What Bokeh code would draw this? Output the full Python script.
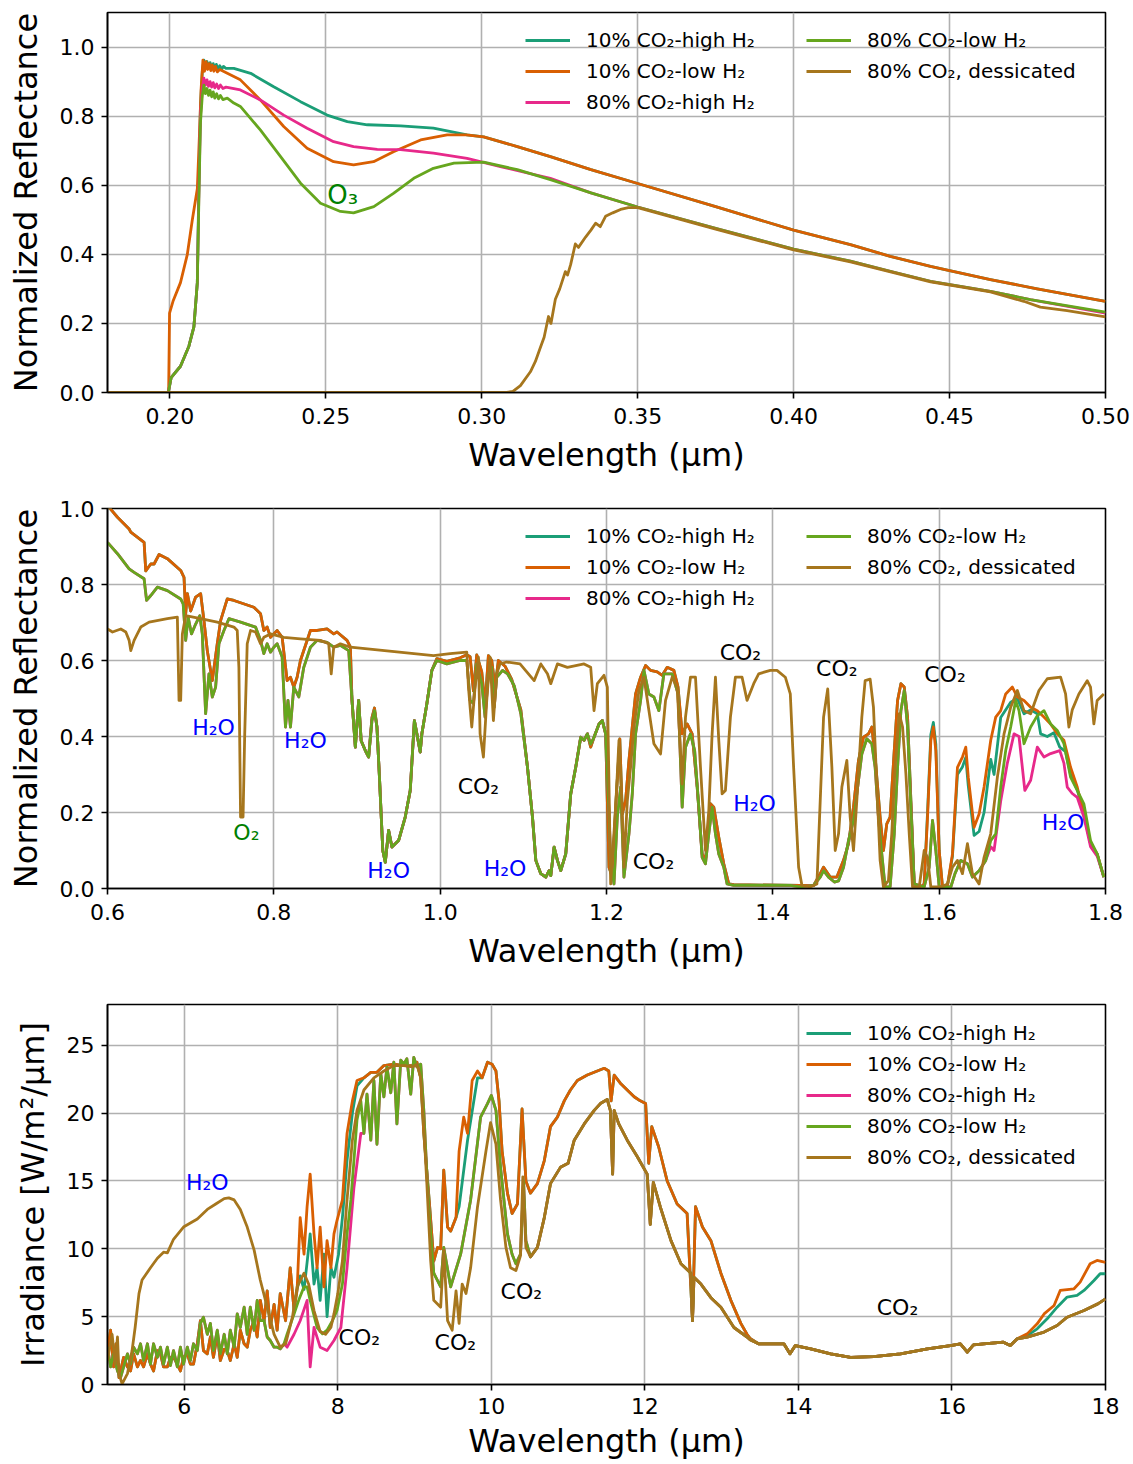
from bokeh.plotting import figure
from bokeh.models import ColumnDataSource, Legend, LegendItem, Range1d, NumeralTickFormatter
from bokeh.layouts import column
from bokeh.embed import file_html
from bokeh.resources import INLINE
from bokeh.core.properties import value

FONT = "DejaVu Sans"
SERIES_NAMES = ["10% CO₂-high H₂", "10% CO₂-low H₂", "80% CO₂-high H₂",
                "80% CO₂-low H₂", "80% CO₂, dessicated"]
SERIES_COLORS = ["#1b9e77", "#d95f02", "#e7298a", "#66a61e", "#a6761d"]

# ---------------- Panel 1: UV reflectance (wavelength um, reflectance) ----------------
UV_TEAL = [(0.180, 0.0), (0.1995, 0.0), (0.2004, 0.043), (0.2034, 0.076), (0.2061, 0.134),
           (0.2077, 0.190), (0.2088, 0.318), (0.2093, 0.607), (0.2098, 0.827), (0.2104, 0.930),
           (0.2109, 0.962), (0.2114, 0.945), (0.2119, 0.958), (0.2124, 0.940), (0.2129, 0.955),
           (0.2134, 0.938), (0.2139, 0.952), (0.2144, 0.936), (0.2149, 0.950), (0.2154, 0.935),
           (0.2160, 0.946), (0.2166, 0.936), (0.2172, 0.944), (0.2180, 0.938), (0.2205, 0.938),
           (0.2259, 0.924), (0.2333, 0.885), (0.2419, 0.842), (0.2504, 0.803), (0.2569, 0.784),
           (0.2633, 0.775), (0.2740, 0.772), (0.2845, 0.765), (0.2953, 0.746), (0.3006, 0.740),
           (0.3114, 0.712), (0.3220, 0.683), (0.3350, 0.645), (0.3500, 0.605), (0.3750, 0.538),
           (0.4000, 0.470), (0.4182, 0.428), (0.4310, 0.394), (0.4439, 0.365), (0.4500, 0.353),
           (0.4631, 0.327), (0.4781, 0.300), (0.5000, 0.264)]
UV_ORANGE = [(0.180, 0.0), (0.1996, 0.0), (0.1999, 0.230), (0.2010, 0.264), (0.2034, 0.318),
             (0.2056, 0.400), (0.2072, 0.500), (0.2088, 0.590), (0.2095, 0.750), (0.2100, 0.876),
             (0.2106, 0.962), (0.2111, 0.930), (0.2116, 0.958), (0.2121, 0.935), (0.2126, 0.952),
             (0.2131, 0.932), (0.2136, 0.948), (0.2141, 0.930), (0.2146, 0.944), (0.2152, 0.928),
             (0.2160, 0.935), (0.2226, 0.905), (0.2290, 0.847), (0.2365, 0.770), (0.2440, 0.707),
             (0.2525, 0.668), (0.2589, 0.659), (0.2653, 0.668), (0.2717, 0.697), (0.2804, 0.731),
             (0.2889, 0.746), (0.2950, 0.746), (0.3006, 0.740), (0.3114, 0.712), (0.3220, 0.683),
             (0.3350, 0.645), (0.3500, 0.605), (0.3750, 0.538), (0.4000, 0.470), (0.4182, 0.428),
             (0.4310, 0.394), (0.4439, 0.365), (0.4500, 0.353), (0.4631, 0.327), (0.4781, 0.300),
             (0.5000, 0.264)]
UV_PINK = [(0.180, 0.0), (0.1995, 0.0), (0.2004, 0.043), (0.2034, 0.076), (0.2061, 0.134),
           (0.2077, 0.190), (0.2088, 0.318), (0.2093, 0.580), (0.2098, 0.800), (0.2104, 0.880),
           (0.2109, 0.910), (0.2114, 0.890), (0.2119, 0.905), (0.2124, 0.886), (0.2129, 0.900),
           (0.2134, 0.884), (0.2139, 0.897), (0.2144, 0.882), (0.2150, 0.893), (0.2156, 0.880),
           (0.2162, 0.890), (0.2170, 0.880), (0.2180, 0.884), (0.2226, 0.876), (0.2290, 0.847),
           (0.2365, 0.803), (0.2440, 0.765), (0.2525, 0.726), (0.2589, 0.712), (0.2665, 0.704),
           (0.2740, 0.703), (0.2845, 0.693), (0.2953, 0.678), (0.3060, 0.654), (0.3220, 0.620),
           (0.3350, 0.578), (0.3500, 0.537), (0.3750, 0.475), (0.4000, 0.415), (0.4182, 0.380),
           (0.4310, 0.351), (0.4439, 0.322), (0.4631, 0.293), (0.4759, 0.269), (0.5000, 0.230)]
UV_GREEN = [(0.180, 0.0), (0.1995, 0.0), (0.2004, 0.043), (0.2034, 0.076), (0.2061, 0.134),
            (0.2077, 0.190), (0.2088, 0.318), (0.2093, 0.560), (0.2098, 0.780), (0.2104, 0.860),
            (0.2109, 0.890), (0.2114, 0.865), (0.2119, 0.880), (0.2124, 0.860), (0.2129, 0.875),
            (0.2134, 0.856), (0.2139, 0.870), (0.2144, 0.852), (0.2150, 0.865), (0.2156, 0.850),
            (0.2162, 0.860), (0.2170, 0.848), (0.2184, 0.852), (0.2205, 0.838), (0.2226, 0.828),
            (0.2290, 0.760), (0.2355, 0.683), (0.2419, 0.606), (0.2483, 0.548), (0.2547, 0.524),
            (0.2589, 0.520), (0.2654, 0.538), (0.2718, 0.577), (0.2782, 0.620), (0.2845, 0.649),
            (0.2911, 0.664), (0.3006, 0.667), (0.3114, 0.645), (0.3220, 0.616), (0.3350, 0.578),
            (0.3500, 0.537), (0.3750, 0.475), (0.4000, 0.415), (0.4182, 0.380), (0.4310, 0.351),
            (0.4439, 0.322), (0.4631, 0.293), (0.4759, 0.269), (0.5000, 0.233)]
UV_BROWN = [(0.180, 0.0), (0.3080, 0.0), (0.3100, 0.003), (0.3124, 0.020), (0.3156, 0.060),
            (0.3172, 0.090), (0.3188, 0.130), (0.3200, 0.160), (0.3214, 0.220), (0.3222, 0.200),
            (0.3236, 0.270), (0.3250, 0.300), (0.3268, 0.350), (0.3275, 0.340), (0.3285, 0.370),
            (0.3300, 0.430), (0.3310, 0.420), (0.3333, 0.450), (0.3350, 0.470), (0.3365, 0.490),
            (0.3380, 0.480), (0.3397, 0.510), (0.3420, 0.520), (0.3445, 0.530), (0.3470, 0.535),
            (0.3500, 0.535), (0.3750, 0.473), (0.4000, 0.413), (0.4182, 0.378), (0.4439, 0.320),
            (0.4631, 0.291), (0.4738, 0.264), (0.4791, 0.247), (0.4877, 0.237), (0.5000, 0.219)]

UV_XTICKS = [0.20, 0.25, 0.30, 0.35, 0.40, 0.45, 0.50]
UV_XLABELS = ["0.20", "0.25", "0.30", "0.35", "0.40", "0.45", "0.50"]
UV_YTICKS = [0.0, 0.2, 0.4, 0.6, 0.8, 1.0]
UV_YLABELS = ["0.0", "0.2", "0.4", "0.6", "0.8", "1.0"]
UV_NOTES = [(0.2554, 0.571, "O₃", "#008000")]

# ---------------- Panel 2: NIR reflectance ----------------
NIR_ORANGE_A = [(0.600, 1.008), (0.612, 0.977), (0.626, 0.946), (0.628, 0.938), (0.644, 0.911),
                (0.646, 0.836), (0.652, 0.854), (0.656, 0.854), (0.662, 0.879), (0.672, 0.868),
                (0.688, 0.837), (0.692, 0.819), (0.694, 0.723), (0.696, 0.776), (0.700, 0.730),
                (0.706, 0.767), (0.712, 0.776), (0.716, 0.705), (0.720, 0.626), (0.726, 0.547),
                (0.732, 0.644), (0.736, 0.705), (0.744, 0.762), (0.752, 0.758), (0.776, 0.740),
                (0.784, 0.723), (0.788, 0.679), (0.792, 0.688), (0.796, 0.661), (0.804, 0.679),
                (0.810, 0.661), (0.816, 0.547), (0.820, 0.556), (0.824, 0.530), (0.828, 0.556),
                (0.832, 0.600), (0.844, 0.679), (0.852, 0.679), (0.864, 0.683), (0.872, 0.670),
                (0.876, 0.675), (0.888, 0.653), (0.892, 0.636)]
NIR_GREEN_A = [(0.600, 0.911), (0.612, 0.881), (0.626, 0.841), (0.632, 0.832), (0.644, 0.815),
               (0.647, 0.758), (0.652, 0.771), (0.660, 0.793), (0.672, 0.784), (0.688, 0.762),
               (0.691, 0.749), (0.694, 0.653), (0.697, 0.714), (0.701, 0.670), (0.706, 0.696),
               (0.711, 0.718), (0.714, 0.670), (0.718, 0.460), (0.722, 0.565), (0.726, 0.504),
               (0.730, 0.530), (0.734, 0.644), (0.740, 0.679), (0.746, 0.710), (0.760, 0.701),
               (0.778, 0.688), (0.784, 0.653), (0.788, 0.618), (0.792, 0.644), (0.796, 0.622),
               (0.800, 0.635), (0.804, 0.644), (0.810, 0.609), (0.814, 0.425), (0.817, 0.495),
               (0.820, 0.425), (0.824, 0.530), (0.830, 0.504), (0.836, 0.582), (0.844, 0.635),
               (0.852, 0.653), (0.864, 0.648), (0.872, 0.635), (0.880, 0.640), (0.890, 0.626)]
NIR_ORANGE_MID = [(0.894, 0.495), (0.898, 0.372), (0.902, 0.495), (0.905, 0.389), (0.910, 0.363),
                  (0.914, 0.346), (0.918, 0.450), (0.921, 0.475), (0.924, 0.425), (0.927, 0.293),
                  (0.931, 0.100), (0.934, 0.069), (0.938, 0.153), (0.942, 0.109), (0.950, 0.126),
                  (0.958, 0.188), (0.964, 0.258), (0.969, 0.442), (0.972, 0.407), (0.976, 0.359),
                  (0.978, 0.407), (0.984, 0.486), (0.990, 0.574), (0.996, 0.605), (1.008, 0.598),
                  (1.024, 0.607), (1.032, 0.615), (1.036, 0.610), (1.040, 0.520), (1.044, 0.615),
                  (1.050, 0.570), (1.054, 0.480), (1.058, 0.613), (1.062, 0.600), (1.066, 0.530),
                  (1.070, 0.600), (1.078, 0.585), (1.086, 0.550), (1.097, 0.470), (1.105, 0.319),
                  (1.111, 0.188), (1.115, 0.074), (1.121, 0.039), (1.127, 0.030), (1.131, 0.047),
                  (1.133, 0.034), (1.137, 0.109), (1.141, 0.074), (1.145, 0.047), (1.151, 0.091),
                  (1.157, 0.249), (1.163, 0.319), (1.169, 0.398), (1.173, 0.390), (1.177, 0.407),
                  (1.181, 0.372), (1.185, 0.398), (1.191, 0.433), (1.195, 0.442), (1.199, 0.407)]
NIR_MID = [(0.894, 0.495), (0.898, 0.372), (0.902, 0.495), (0.905, 0.389), (0.910, 0.363),
           (0.914, 0.346), (0.918, 0.442), (0.921, 0.468), (0.924, 0.425), (0.927, 0.293),
           (0.931, 0.100), (0.934, 0.069), (0.938, 0.153), (0.942, 0.109), (0.950, 0.126),
           (0.958, 0.188), (0.964, 0.258), (0.969, 0.442), (0.972, 0.407), (0.976, 0.359),
           (0.978, 0.407), (0.984, 0.486), (0.990, 0.574), (0.996, 0.600), (1.008, 0.591),
           (1.024, 0.600), (1.032, 0.600), (1.036, 0.495), (1.040, 0.487), (1.044, 0.591),
           (1.050, 0.539), (1.054, 0.451), (1.058, 0.565), (1.062, 0.582), (1.065, 0.477),
           (1.068, 0.556), (1.075, 0.574), (1.081, 0.565), (1.089, 0.534), (1.097, 0.460),
           (1.105, 0.319), (1.111, 0.188), (1.115, 0.074), (1.121, 0.039), (1.127, 0.030),
           (1.131, 0.047), (1.133, 0.034), (1.137, 0.109), (1.141, 0.074), (1.145, 0.047),
           (1.151, 0.091), (1.157, 0.249), (1.163, 0.319), (1.169, 0.398), (1.173, 0.390),
           (1.177, 0.407), (1.181, 0.380), (1.185, 0.398), (1.191, 0.433), (1.195, 0.442),
           (1.199, 0.407)]
NIR_ORANGE_B = [(1.203, 0.056), (1.207, 0.030), (1.211, 0.214), (1.216, 0.394), (1.219, 0.196),
                (1.223, 0.232), (1.227, 0.337), (1.231, 0.425), (1.235, 0.512), (1.241, 0.556),
                (1.247, 0.587), (1.253, 0.574), (1.261, 0.570), (1.267, 0.561), (1.273, 0.582),
                (1.281, 0.574), (1.286, 0.530), (1.291, 0.407), (1.297, 0.433), (1.303, 0.407),
                (1.309, 0.267), (1.315, 0.091), (1.319, 0.074), (1.325, 0.223), (1.329, 0.214),
                (1.335, 0.135), (1.341, 0.065), (1.347, 0.012), (1.353, 0.010), (1.433, 0.008),
                (1.449, 0.008), (1.457, 0.039), (1.461, 0.056), (1.469, 0.030), (1.477, 0.030),
                (1.485, 0.074), (1.491, 0.118), (1.497, 0.214), (1.503, 0.337), (1.509, 0.398),
                (1.515, 0.407), (1.519, 0.425), (1.523, 0.346), (1.529, 0.188), (1.533, 0.100),
                (1.537, 0.170), (1.541, 0.188), (1.546, 0.363), (1.550, 0.495), (1.554, 0.539),
                (1.558, 0.530), (1.562, 0.451), (1.566, 0.232), (1.570, 0.012), (1.578, 0.004),
                (1.582, 0.012), (1.586, 0.188), (1.590, 0.390), (1.593, 0.425), (1.596, 0.363),
                (1.600, 0.100), (1.604, 0.004), (1.610, 0.008), (1.616, 0.091), (1.622, 0.319),
                (1.628, 0.346), (1.632, 0.372), (1.635, 0.293), (1.642, 0.161), (1.648, 0.196),
                (1.654, 0.267), (1.662, 0.390), (1.668, 0.451), (1.674, 0.468), (1.680, 0.512),
                (1.688, 0.530), (1.694, 0.504), (1.702, 0.495), (1.710, 0.477), (1.718, 0.468),
                (1.726, 0.451), (1.734, 0.433), (1.742, 0.407), (1.750, 0.390), (1.758, 0.319),
                (1.766, 0.267), (1.774, 0.196), (1.782, 0.118), (1.790, 0.091), (1.798, 0.030)]
NIR_TEAL_B = [(1.203, 0.056), (1.207, 0.030), (1.211, 0.214), (1.216, 0.394), (1.219, 0.196),
              (1.223, 0.232), (1.227, 0.337), (1.231, 0.425), (1.235, 0.512), (1.241, 0.556),
              (1.247, 0.587), (1.253, 0.574), (1.261, 0.570), (1.267, 0.561), (1.273, 0.582),
              (1.281, 0.574), (1.286, 0.530), (1.291, 0.407), (1.297, 0.433), (1.303, 0.407),
              (1.309, 0.267), (1.315, 0.091), (1.319, 0.074), (1.325, 0.223), (1.329, 0.214),
              (1.335, 0.135), (1.341, 0.065), (1.347, 0.012), (1.353, 0.010), (1.433, 0.008),
              (1.449, 0.008), (1.457, 0.039), (1.461, 0.056), (1.469, 0.030), (1.477, 0.030),
              (1.485, 0.074), (1.491, 0.118), (1.497, 0.214), (1.503, 0.337), (1.509, 0.398),
              (1.515, 0.407), (1.519, 0.425), (1.523, 0.346), (1.529, 0.188), (1.533, 0.100),
              (1.537, 0.170), (1.541, 0.188), (1.546, 0.363), (1.550, 0.495), (1.554, 0.539),
              (1.558, 0.530), (1.562, 0.451), (1.566, 0.232), (1.570, 0.012), (1.578, 0.004),
              (1.582, 0.012), (1.586, 0.200), (1.590, 0.405), (1.593, 0.437), (1.596, 0.380),
              (1.600, 0.100), (1.604, 0.004), (1.610, 0.008), (1.616, 0.085), (1.622, 0.300),
              (1.628, 0.320), (1.632, 0.345), (1.635, 0.270), (1.642, 0.140), (1.648, 0.150),
              (1.654, 0.200), (1.662, 0.340), (1.666, 0.300), (1.674, 0.450), (1.686, 0.490),
              (1.694, 0.500), (1.702, 0.460), (1.710, 0.470), (1.718, 0.460), (1.722, 0.407),
              (1.730, 0.400), (1.738, 0.410), (1.745, 0.372), (1.752, 0.360), (1.758, 0.300),
              (1.766, 0.260), (1.774, 0.196), (1.782, 0.118), (1.790, 0.091), (1.798, 0.030)]
NIR_GREEN_B = [(1.203, 0.200), (1.205, 0.074), (1.209, 0.012), (1.213, 0.188), (1.217, 0.267),
               (1.221, 0.030), (1.227, 0.144), (1.231, 0.249), (1.235, 0.407), (1.241, 0.495),
               (1.245, 0.574), (1.251, 0.512), (1.257, 0.504), (1.263, 0.468), (1.269, 0.565),
               (1.279, 0.565), (1.286, 0.512), (1.291, 0.214), (1.295, 0.372), (1.301, 0.407),
               (1.306, 0.363), (1.311, 0.214), (1.315, 0.082), (1.319, 0.065), (1.323, 0.144),
               (1.327, 0.214), (1.331, 0.144), (1.335, 0.091), (1.341, 0.056), (1.345, 0.012),
               (1.353, 0.008), (1.421, 0.008), (1.433, 0.004), (1.449, 0.008), (1.457, 0.030),
               (1.461, 0.047), (1.467, 0.030), (1.474, 0.017), (1.479, 0.020), (1.485, 0.056),
               (1.491, 0.126), (1.497, 0.179), (1.501, 0.249), (1.507, 0.354), (1.513, 0.394),
               (1.519, 0.381), (1.523, 0.319), (1.527, 0.188), (1.531, 0.091), (1.535, 0.004),
               (1.541, 0.004), (1.546, 0.144), (1.550, 0.319), (1.554, 0.468), (1.558, 0.521),
               (1.562, 0.425), (1.566, 0.214), (1.570, 0.012), (1.582, 0.004), (1.588, 0.056),
               (1.592, 0.179), (1.596, 0.100), (1.600, 0.004), (1.614, 0.004), (1.619, 0.039),
               (1.626, 0.074), (1.634, 0.065), (1.640, 0.030), (1.648, 0.047), (1.656, 0.074),
               (1.662, 0.126), (1.668, 0.144), (1.674, 0.267), (1.680, 0.363), (1.686, 0.425),
               (1.692, 0.495), (1.696, 0.468), (1.702, 0.381), (1.710, 0.425), (1.718, 0.455),
               (1.726, 0.468), (1.734, 0.433), (1.742, 0.416), (1.750, 0.381), (1.758, 0.293),
               (1.766, 0.258), (1.774, 0.223), (1.782, 0.126), (1.790, 0.091), (1.798, 0.030)]
NIR_PINK_B = [(1.203, 0.200), (1.205, 0.074), (1.209, 0.012), (1.213, 0.188), (1.217, 0.267),
              (1.221, 0.030), (1.227, 0.144), (1.231, 0.249), (1.235, 0.407), (1.241, 0.495),
              (1.245, 0.574), (1.251, 0.512), (1.257, 0.504), (1.263, 0.468), (1.269, 0.565),
              (1.279, 0.565), (1.286, 0.512), (1.291, 0.214), (1.295, 0.372), (1.301, 0.407),
              (1.306, 0.363), (1.311, 0.214), (1.315, 0.082), (1.319, 0.065), (1.323, 0.144),
              (1.327, 0.214), (1.331, 0.144), (1.335, 0.091), (1.341, 0.056), (1.345, 0.012),
              (1.353, 0.008), (1.421, 0.008), (1.433, 0.004), (1.449, 0.008), (1.457, 0.030),
              (1.461, 0.047), (1.467, 0.030), (1.474, 0.017), (1.479, 0.020), (1.485, 0.056),
              (1.491, 0.126), (1.497, 0.179), (1.501, 0.249), (1.507, 0.354), (1.513, 0.394),
              (1.519, 0.381), (1.523, 0.319), (1.527, 0.188), (1.531, 0.091), (1.535, 0.004),
              (1.541, 0.004), (1.546, 0.144), (1.550, 0.319), (1.554, 0.468), (1.558, 0.521),
              (1.562, 0.425), (1.566, 0.214), (1.570, 0.012), (1.582, 0.004), (1.588, 0.056),
              (1.592, 0.179), (1.596, 0.100), (1.600, 0.004), (1.614, 0.004), (1.619, 0.039),
              (1.626, 0.074), (1.634, 0.065), (1.640, 0.030), (1.648, 0.047), (1.656, 0.074),
              (1.662, 0.110), (1.666, 0.100), (1.674, 0.230), (1.682, 0.330), (1.690, 0.407),
              (1.696, 0.400), (1.703, 0.258), (1.710, 0.285), (1.718, 0.372), (1.726, 0.346),
              (1.734, 0.355), (1.745, 0.363), (1.750, 0.330), (1.754, 0.267), (1.760, 0.250),
              (1.766, 0.240), (1.774, 0.188), (1.782, 0.110), (1.790, 0.085), (1.798, 0.030)]
NIR_BROWN = [(0.600, 0.683), (0.606, 0.675), (0.616, 0.683), (0.622, 0.675), (0.626, 0.653),
             (0.628, 0.626), (0.632, 0.653), (0.640, 0.688), (0.650, 0.701), (0.672, 0.710),
             (0.684, 0.714), (0.686, 0.495), (0.688, 0.495), (0.690, 0.670), (0.694, 0.718),
             (0.712, 0.710), (0.732, 0.701), (0.752, 0.688), (0.756, 0.679), (0.758, 0.582),
             (0.760, 0.188), (0.763, 0.188), (0.765, 0.407), (0.768, 0.644), (0.772, 0.679),
             (0.778, 0.675), (0.784, 0.644), (0.788, 0.661), (0.796, 0.670), (0.812, 0.661),
             (0.832, 0.657), (0.856, 0.653), (0.866, 0.644), (0.869, 0.565), (0.872, 0.635),
             (0.880, 0.644), (0.892, 0.635), (0.992, 0.613), (1.012, 0.618), (1.032, 0.622),
             (1.034, 0.530), (1.038, 0.425), (1.042, 0.530), (1.046, 0.609), (1.048, 0.407),
             (1.052, 0.346), (1.056, 0.495), (1.060, 0.609), (1.064, 0.442), (1.068, 0.565),
             (1.072, 0.591), (1.080, 0.596), (1.096, 0.591), (1.113, 0.547), (1.121, 0.591),
             (1.129, 0.565), (1.133, 0.539), (1.141, 0.591), (1.153, 0.582), (1.173, 0.591),
             (1.181, 0.582), (1.185, 0.468), (1.189, 0.539), (1.197, 0.561), (1.201, 0.530),
             (1.205, 0.012), (1.211, 0.214), (1.215, 0.390), (1.219, 0.200), (1.221, 0.056),
             (1.225, 0.230), (1.229, 0.320), (1.233, 0.425), (1.239, 0.521), (1.245, 0.556),
             (1.251, 0.468), (1.257, 0.381), (1.265, 0.354), (1.271, 0.495), (1.279, 0.556),
             (1.285, 0.530), (1.291, 0.275), (1.295, 0.451), (1.301, 0.556), (1.307, 0.556),
             (1.313, 0.319), (1.319, 0.100), (1.323, 0.205), (1.327, 0.407), (1.331, 0.556),
             (1.335, 0.390), (1.339, 0.249), (1.343, 0.258), (1.349, 0.451), (1.355, 0.556),
             (1.363, 0.556), (1.369, 0.495), (1.377, 0.539), (1.383, 0.565), (1.397, 0.574),
             (1.405, 0.574), (1.415, 0.556), (1.421, 0.512), (1.425, 0.319), (1.431, 0.056),
             (1.435, 0.008), (1.445, 0.004), (1.453, 0.012), (1.457, 0.232), (1.461, 0.451),
             (1.466, 0.525), (1.471, 0.319), (1.475, 0.100), (1.479, 0.144), (1.483, 0.267),
             (1.489, 0.337), (1.493, 0.188), (1.497, 0.100), (1.501, 0.232), (1.507, 0.451),
             (1.511, 0.547), (1.517, 0.551), (1.521, 0.477), (1.525, 0.275), (1.529, 0.074),
             (1.533, 0.004), (1.539, 0.021), (1.543, 0.144), (1.547, 0.319), (1.552, 0.460),
             (1.556, 0.425), (1.560, 0.302), (1.564, 0.144), (1.568, 0.004), (1.576, 0.004),
             (1.582, 0.100), (1.586, 0.082), (1.590, 0.004), (1.602, 0.004), (1.610, 0.012),
             (1.616, 0.056), (1.622, 0.074), (1.628, 0.039), (1.634, 0.118), (1.640, 0.039),
             (1.648, 0.012), (1.654, 0.082), (1.662, 0.144), (1.670, 0.293), (1.678, 0.407),
             (1.686, 0.477), (1.694, 0.521), (1.702, 0.468), (1.710, 0.460), (1.720, 0.521),
             (1.730, 0.552), (1.746, 0.556), (1.752, 0.512), (1.756, 0.425), (1.760, 0.470),
             (1.768, 0.512), (1.778, 0.547), (1.782, 0.530), (1.786, 0.433), (1.790, 0.495),
             (1.798, 0.512)]

NIR_XTICKS = [0.6, 0.8, 1.0, 1.2, 1.4, 1.6, 1.8]
NIR_XLABELS = ["0.6", "0.8", "1.0", "1.2", "1.4", "1.6", "1.8"]
NIR_YTICKS = [0.0, 0.2, 0.4, 0.6, 0.8, 1.0]
NIR_YLABELS = ["0.0", "0.2", "0.4", "0.6", "0.8", "1.0"]
NIR_NOTES = [(0.7275, 0.424, "H₂O", "#0000ff"), (0.767, 0.147, "O₂", "#008000"),
             (0.838, 0.389, "H₂O", "#0000ff"), (0.938, 0.047, "H₂O", "#0000ff"),
             (1.046, 0.268, "CO₂", "#000000"), (1.078, 0.053, "H₂O", "#0000ff"),
             (1.2565, 0.071, "CO₂", "#000000"), (1.361, 0.620, "CO₂", "#000000"),
             (1.378, 0.224, "H₂O", "#0000ff"), (1.477, 0.580, "CO₂", "#000000"),
             (1.607, 0.563, "CO₂", "#000000"), (1.749, 0.174, "H₂O", "#0000ff")]

# ---------------- Panel 3: thermal irradiance (W/m2/um) ----------------
IR_ORANGE_A = [(5.00, 2.50), (5.04, 4.00), (5.08, 1.30), (5.11, 3.00), (5.15, 0.50), (5.21, 2.00),
               (5.26, 1.30), (5.30, 1.00), (5.34, 2.26), (5.39, 1.30), (5.43, 1.77), (5.47, 1.30),
               (5.52, 2.26), (5.56, 1.50), (5.60, 1.00), (5.65, 2.50), (5.69, 2.26), (5.73, 1.30),
               (5.78, 1.30), (5.82, 2.00), (5.86, 2.00), (5.91, 1.50), (5.95, 1.00), (5.99, 2.00),
               (6.04, 2.26), (6.08, 1.50), (6.12, 1.50), (6.17, 3.00), (6.21, 4.70), (6.25, 2.50),
               (6.30, 2.26), (6.34, 3.50), (6.38, 2.00), (6.43, 3.70), (6.47, 1.77), (6.52, 2.60),
               (6.56, 2.50), (6.60, 1.77), (6.65, 3.00), (6.69, 2.00), (6.73, 4.00), (6.78, 3.00),
               (6.82, 2.75), (6.86, 4.00), (6.91, 4.70), (6.95, 3.50), (6.99, 6.20), (7.04, 4.70),
               (7.08, 6.90), (7.12, 4.20), (7.17, 5.90), (7.21, 4.00), (7.25, 6.70), (7.32, 4.70),
               (7.38, 8.60), (7.43, 5.50), (7.47, 7.00)]
IR_ORANGE_B = [(7.51, 12.30), (7.56, 9.60), (7.60, 13.10), (7.64, 15.50), (7.69, 11.10),
               (7.73, 8.60), (7.77, 11.60), (7.82, 7.20), (7.86, 10.60), (7.91, 8.60),
               (7.95, 11.10), (7.99, 12.10), (8.06, 13.60), (8.12, 18.50), (8.19, 20.90),
               (8.25, 22.40)]
IR_ORANGE_C = [(8.34, 22.60), (8.43, 23.00), (8.51, 23.00), (8.60, 23.50), (8.73, 23.60),
               (8.86, 23.50), (8.97, 23.50), (9.03, 23.75), (9.08, 22.60), (9.12, 18.50),
               (9.19, 13.60), (9.25, 9.10), (9.30, 10.10), (9.34, 10.00), (9.38, 15.80),
               (9.43, 11.60), (9.47, 11.30)]
IR_ORANGE_D = [(9.54, 12.30), (9.58, 17.20), (9.64, 19.70), (9.69, 18.50), (9.75, 22.40),
               (9.82, 23.10)]
IR_ORANGE_E = [(9.88, 22.60), (9.95, 23.75), (10.01, 23.60), (10.06, 23.10), (10.10, 20.90),
               (10.14, 17.20), (10.21, 14.10), (10.27, 12.60), (10.34, 13.30), (10.40, 20.30),
               (10.45, 15.00), (10.51, 14.10), (10.60, 14.80), (10.69, 16.50), (10.77, 19.00),
               (10.86, 19.70), (10.95, 20.90), (11.03, 21.70), (11.12, 22.40), (11.25, 22.80),
               (11.38, 23.10), (11.47, 23.30), (11.53, 23.10), (11.56, 20.90), (11.60, 22.80),
               (11.68, 22.20), (11.77, 21.70), (11.86, 21.20), (11.94, 20.90), (12.01, 20.70),
               (12.05, 16.30), (12.09, 19.00), (12.18, 17.50), (12.29, 15.00), (12.42, 13.30),
               (12.55, 12.60), (12.62, 4.70), (12.66, 13.10), (12.75, 11.60), (12.86, 10.60),
               (12.99, 8.20), (13.12, 6.20), (13.25, 4.50), (13.33, 3.70), (13.37, 3.40)]
IR_TEAL_B = [(7.51, 8.00), (7.56, 7.00), (7.60, 9.00), (7.64, 11.10), (7.69, 7.40), (7.73, 8.60),
             (7.77, 6.20), (7.82, 9.60), (7.86, 5.00), (7.91, 8.60), (7.95, 7.90), (8.01, 9.60),
             (8.06, 12.30), (8.12, 16.50), (8.19, 20.00), (8.25, 22.00)]
IR_TEAL_D = [(9.54, 12.30), (9.58, 13.10), (9.69, 18.00), (9.82, 22.60)]
IR_GREEN_A = [(5.00, 2.75), (5.04, 1.30), (5.08, 2.26), (5.13, 1.00), (5.17, 0.50), (5.21, 1.30),
              (5.26, 2.26), (5.30, 1.50), (5.34, 2.75), (5.39, 2.26), (5.43, 3.00), (5.47, 1.77),
              (5.52, 3.00), (5.56, 1.50), (5.60, 3.00), (5.65, 2.00), (5.69, 2.75), (5.73, 1.50),
              (5.78, 2.75), (5.82, 1.40), (5.86, 2.50), (5.91, 1.30), (5.95, 2.75), (5.99, 1.50),
              (6.04, 2.75), (6.08, 1.77), (6.12, 3.00), (6.17, 2.50), (6.21, 4.50), (6.25, 4.96),
              (6.30, 3.70), (6.34, 4.50), (6.38, 2.50), (6.43, 4.00), (6.47, 2.26), (6.52, 3.70),
              (6.56, 2.26), (6.60, 4.00), (6.65, 2.75), (6.69, 5.20), (6.73, 4.20), (6.78, 5.70),
              (6.82, 3.70), (6.86, 5.70), (6.91, 4.00), (6.95, 6.20), (6.99, 4.70), (7.04, 4.70),
              (7.08, 3.50), (7.12, 3.24), (7.17, 2.75), (7.21, 2.75), (7.25, 2.63), (7.30, 3.00)]
IR_GREEN_B = [(7.34, 3.73), (7.43, 5.20), (7.49, 6.20), (7.56, 7.20), (7.60, 7.20), (7.64, 6.20),
              (7.73, 4.20), (7.80, 3.73), (7.86, 4.00), (7.93, 4.70), (7.99, 5.45), (8.06, 7.40),
              (8.12, 11.10), (8.17, 13.60), (8.21, 16.50), (8.25, 19.50), (8.30, 20.90)]
IR_PINK_B = [(7.34, 2.75), (7.43, 3.70), (7.51, 4.70), (7.60, 6.20), (7.64, 1.30), (7.69, 4.20),
             (7.77, 2.75), (7.86, 2.50), (7.95, 3.24), (8.04, 4.20), (8.12, 8.60), (8.21, 14.50),
             (8.30, 18.50)]
IR_GREEN_C = [(8.34, 18.50), (8.38, 21.40), (8.43, 18.00), (8.47, 22.40), (8.51, 17.70),
              (8.56, 22.90), (8.60, 21.20), (8.64, 23.40), (8.69, 21.50), (8.73, 23.75),
              (8.77, 19.20), (8.82, 23.90), (8.86, 23.60), (8.90, 24.00), (8.95, 21.40),
              (8.99, 24.10), (9.03, 23.40), (9.08, 23.60), (9.12, 20.20), (9.16, 15.50),
              (9.21, 11.10), (9.25, 8.20), (9.34, 7.20), (9.38, 10.10), (9.47, 7.20),
              (9.60, 9.60), (9.73, 13.60), (9.86, 19.70), (9.95, 20.70), (10.00, 21.30),
              (10.06, 20.20), (10.12, 16.00), (10.21, 11.10), (10.27, 9.60), (10.32, 8.90),
              (10.38, 9.60), (10.42, 15.00), (10.45, 10.60), (10.51, 9.40)]
IR_BROWN_A = [(5.00, 1.77), (5.06, 3.70), (5.10, 1.50), (5.13, 3.50), (5.15, 0.80), (5.19, 0.05),
              (5.26, 0.80), (5.32, 2.50), (5.36, 4.20), (5.41, 6.70), (5.45, 7.70), (5.56, 8.60),
              (5.65, 9.30), (5.73, 9.75), (5.78, 9.70), (5.86, 10.70), (5.99, 11.60), (6.17, 12.20),
              (6.30, 12.90), (6.41, 13.30), (6.52, 13.70), (6.58, 13.75), (6.65, 13.60),
              (6.73, 12.90), (6.82, 11.60), (6.91, 9.90), (6.99, 7.70), (7.08, 5.70), (7.17, 3.70),
              (7.25, 2.75), (7.32, 3.00), (7.41, 5.00), (7.47, 7.20), (7.56, 8.20), (7.62, 7.40),
              (7.69, 5.45), (7.77, 3.90), (7.84, 3.70), (7.91, 4.20), (7.95, 5.20), (8.00, 6.70),
              (8.06, 9.10), (8.12, 13.60), (8.19, 18.00), (8.25, 20.20), (8.34, 21.70),
              (8.47, 22.60), (8.60, 23.10), (8.73, 23.50), (8.86, 23.50), (8.97, 23.40),
              (9.03, 23.60), (9.08, 22.60), (9.12, 19.00), (9.16, 14.80), (9.21, 9.10),
              (9.25, 6.20), (9.34, 5.70), (9.38, 9.90), (9.43, 4.70), (9.49, 4.00), (9.54, 6.90),
              (9.58, 4.50), (9.62, 7.40), (9.67, 6.70), (9.73, 8.60), (9.82, 13.10), (9.93, 17.20),
              (9.99, 19.30), (10.06, 17.70), (10.12, 13.60), (10.19, 10.10), (10.25, 8.60),
              (10.32, 8.40), (10.38, 9.50), (10.41, 15.30), (10.45, 10.10), (10.51, 9.40)]
IR_LOW_MID = [(10.60, 10.10), (10.69, 12.30), (10.77, 14.80), (10.90, 16.00), (11.00, 16.30),
              (11.08, 18.00), (11.21, 19.20), (11.34, 20.20), (11.42, 20.70), (11.51, 21.00),
              (11.55, 20.20), (11.58, 15.50), (11.60, 20.20), (11.66, 19.20), (11.77, 18.00),
              (11.90, 16.80), (12.03, 15.50), (12.07, 11.80), (12.11, 14.90), (12.20, 13.10),
              (12.34, 10.60), (12.47, 8.90), (12.60, 8.20), (12.62, 4.70), (12.64, 7.90),
              (12.73, 7.40), (12.86, 6.40), (12.99, 5.70), (13.16, 4.20), (13.33, 3.50),
              (13.37, 3.30)]
IR_TAIL = [(13.48, 3.00), (13.64, 3.00), (13.81, 3.00), (13.89, 2.26), (13.96, 2.87),
           (14.16, 2.63), (14.42, 2.26), (14.68, 2.00), (14.98, 2.06), (15.33, 2.26),
           (15.68, 2.63), (15.98, 2.87), (16.11, 3.00), (16.20, 2.38), (16.28, 2.92),
           (16.41, 3.00), (16.67, 3.12), (16.76, 2.87), (16.85, 3.37)]
IR_END_ORANGE = [(16.98, 3.73), (17.11, 4.47), (17.20, 5.20), (17.33, 5.82), (17.41, 6.93),
                 (17.59, 7.05), (17.67, 7.54), (17.80, 8.90), (17.89, 9.14), (18.00, 9.00)]
IR_END_TEAL = [(16.98, 3.60), (17.11, 4.10), (17.24, 4.84), (17.37, 5.70), (17.50, 6.44),
               (17.63, 6.56), (17.72, 6.93), (17.85, 7.66), (17.93, 8.16), (18.00, 8.16)]
IR_END_LOW = [(16.98, 3.49), (17.20, 3.86), (17.37, 4.35), (17.50, 4.96), (17.72, 5.45),
              (17.90, 5.94), (18.00, 6.30)]

IR_XTICKS = [6, 8, 10, 12, 14, 16, 18]
IR_XLABELS = ["6", "8", "10", "12", "14", "16", "18"]
IR_YTICKS = [0, 5, 10, 15, 20, 25]
IR_YLABELS = ["0", "5", "10", "15", "20", "25"]
IR_NOTES = [(6.30, 14.85, "H₂O", "#0000ff"), (8.28, 3.49, "CO₂", "#000000"),
            (9.53, 3.12, "CO₂", "#000000"), (10.39, 6.85, "CO₂", "#000000"),
            (15.29, 5.70, "CO₂", "#000000")]

# assemble series (teal, orange, pink, green, brown)
UV_SERIES = [UV_TEAL, UV_ORANGE, UV_PINK, UV_GREEN, UV_BROWN]
NIR_SERIES = [NIR_ORANGE_A + NIR_ORANGE_MID + NIR_TEAL_B,
              NIR_ORANGE_A + NIR_ORANGE_MID + NIR_ORANGE_B,
              NIR_GREEN_A + NIR_MID + NIR_PINK_B,
              NIR_GREEN_A + NIR_MID + NIR_GREEN_B,
              NIR_BROWN]
IR_SERIES = [IR_ORANGE_A + IR_TEAL_B + IR_ORANGE_C + IR_TEAL_D + IR_ORANGE_E + IR_TAIL + IR_END_TEAL,
             IR_ORANGE_A + IR_ORANGE_B + IR_ORANGE_C + IR_ORANGE_D + IR_ORANGE_E + IR_TAIL + IR_END_ORANGE,
             IR_GREEN_A + IR_PINK_B + IR_GREEN_C + IR_LOW_MID + IR_TAIL + IR_END_LOW,
             IR_GREEN_A + IR_GREEN_B + IR_GREEN_C + IR_LOW_MID + IR_TAIL + IR_END_LOW,
             IR_BROWN_A + IR_LOW_MID + IR_TAIL + IR_END_LOW]


def make_panel(height, x_rng, y_rng, xticks, xlabels, yticks, ylabels, xfmt, yfmt, ylabel,
               tick_gap=9, label_gap=9):
    p = figure(width=1133, height=height, x_range=Range1d(*x_rng), y_range=Range1d(*y_rng),
               output_backend="svg", toolbar_location=None,
               min_border_left=107, min_border_right=28, min_border_top=12,
               min_border_bottom=height - 12 - 380)
    p.background_fill_color = "white"
    p.border_fill_color = "white"
    p.outline_line_color = "black"
    p.outline_line_width = 1.6
    p.outline_line_alpha = 1.0
    p.xaxis.ticker = xticks
    p.yaxis.ticker = yticks
    p.xaxis.formatter = NumeralTickFormatter(format=xfmt)
    p.yaxis.formatter = NumeralTickFormatter(format=yfmt)
    p.xaxis.major_label_overrides = dict(zip(xticks, xlabels))
    p.yaxis.major_label_overrides = dict(zip(yticks, ylabels))
    p.xaxis.axis_label = "Wavelength (μm)"
    p.yaxis.axis_label = ylabel
    for ax in list(p.xaxis) + list(p.yaxis):
        ax.major_label_text_font = FONT
        ax.major_label_text_font_size = "22px"
        ax.major_label_text_color = "black"
        ax.axis_label_text_font = FONT
        ax.axis_label_text_font_size = "32px"
        ax.axis_label_text_font_style = "normal"
        ax.axis_label_text_color = "black"
        ax.axis_line_color = "black"
        ax.axis_line_width = 1.6
        ax.major_tick_line_color = "black"
        ax.major_tick_line_width = 1.6
        ax.major_tick_out = 6
        ax.major_tick_in = 0
        ax.minor_tick_line_color = None
    p.xaxis.major_label_standoff = tick_gap
    p.xaxis.axis_label_standoff = label_gap
    p.yaxis.major_label_standoff = 7
    p.yaxis.axis_label_standoff = 12
    p.grid.grid_line_color = "#b0b0b0"
    p.grid.grid_line_width = 1.6
    return p


def draw_series(p, series):
    rends = []
    for pairs, color in zip(series, SERIES_COLORS):
        xs = [a for a, b in pairs]
        ys = [b for a, b in pairs]
        r = p.line(xs, ys, line_color=color, line_width=2.8, line_join="round")
        rends.append(r)
    return rends


def draw_notes(p, notes, size):
    src = ColumnDataSource(dict(x=[n[0] for n in notes], y=[n[1] for n in notes],
                                t=[n[2] for n in notes], c=[n[3] for n in notes]))
    p.text(x="x", y="y", text="t", text_color="c", source=src, text_font=value(FONT),
           text_font_size=value(size), text_align="center", text_baseline="middle")


def add_legend(p, rends, idx, loc):
    items = [LegendItem(label=value(SERIES_NAMES[i]), renderers=[rends[i]]) for i in idx]
    lg = Legend(items=items, location=loc, orientation="vertical",
                background_fill_alpha=0.0, border_line_alpha=0.0,
                padding=0, margin=0, spacing=3, glyph_width=45, glyph_height=28,
                label_height=28, label_standoff=16, label_text_font=FONT,
                label_text_font_size="20px", label_text_color="black")
    p.add_layout(lg)


p1 = make_panel(496, (0.18, 0.50), (0.0, 1.1), UV_XTICKS, UV_XLABELS, UV_YTICKS, UV_YLABELS,
                "0.00", "0.0", "Normalized Reflectance")
r1 = draw_series(p1, UV_SERIES)
draw_notes(p1, UV_NOTES, "26px")
add_legend(p1, r1, [0, 1, 2], (418, 276))
add_legend(p1, r1, [3, 4], (699, 307))

p2 = make_panel(496, (0.6, 1.8), (0.0, 1.0), NIR_XTICKS, NIR_XLABELS, NIR_YTICKS, NIR_YLABELS,
                "0.0", "0.0", "Normalized Reflectance")
r2 = draw_series(p2, NIR_SERIES)
draw_notes(p2, NIR_NOTES, "22px")
add_legend(p2, r2, [0, 1, 2], (418, 276))
add_legend(p2, r2, [3, 4], (699, 307))

p3 = make_panel(472, (5, 18), (0, 28), IR_XTICKS, IR_XLABELS, IR_YTICKS, IR_YLABELS,
                "0", "0", "Irradiance [W/m²/μm]", tick_gap=7, label_gap=5)
r3 = draw_series(p3, IR_SERIES)
draw_notes(p3, IR_NOTES, "22px")
add_legend(p3, r3, [0, 1, 2, 3, 4], (699, 213))

layout = column(p1, p2, p3, spacing=0)
open("out.html", "w").write(file_html(layout, INLINE))
